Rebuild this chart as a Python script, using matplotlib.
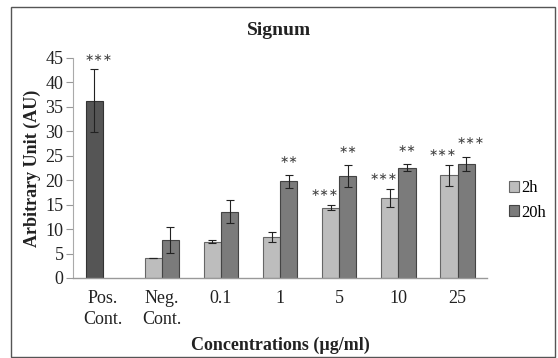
import numpy as np
import matplotlib.pyplot as plt
from matplotlib.patches import Rectangle

plt.rcParams['font.family'] = ['Liberation Serif', 'DejaVu Serif']

# data
categories = ['Pos.\nCont.', 'Neg.\nCont.', '0.1', '1', '5', '10', '25']
pos_value = 36.3
pos_err = 6.5
vals_2h = [4.0, 7.4, 8.4, 14.4, 16.3, 21.05]
err_2h = [0.0, 0.3, 1.05, 0.55, 1.85, 2.15]
vals_20h = [7.8, 13.6, 19.75, 20.9, 22.6, 23.4]
err_20h = [2.6, 2.35, 1.3, 2.25, 0.65, 1.45]
stars_2h = ['', '', '', '∗∗∗', '∗∗∗', '∗∗∗']
stars_20h = ['', '', '∗∗', '∗∗', '∗∗', '∗∗∗']
pos_star = '∗∗∗'

fig = plt.figure(figsize=(5.58, 3.58), dpi=100)
ax = fig.add_axes([0.131, 0.2235, 0.742, 0.6145])

w = 0.29
x = np.arange(len(categories))
xs = x[1:]
err_kw = dict(ecolor='#222222', elinewidth=0.8, capsize=3, capthick=0.8)

ax.bar(x[0] - w / 2, pos_value, w, yerr=pos_err, color='#555555',
       edgecolor='#333333', linewidth=0.8, error_kw=err_kw)
b2 = ax.bar(xs - w / 2, vals_2h, w, yerr=err_2h, color='#bdbdbd',
            edgecolor='#666666', linewidth=0.8, error_kw=err_kw, label='2h')
b20 = ax.bar(xs + w / 2, vals_20h, w, yerr=err_20h, color='#7b7b7b',
             edgecolor='#444444', linewidth=0.8, error_kw=err_kw, label='20h')

# significance stars, placed just above the error bars
star_kw = dict(ha='center', va='center', fontsize=8, color='#444444',
               family='DejaVu Sans', textcoords='offset points')
ax.annotate(pos_star, (x[0] - w / 2, pos_value + pos_err), xytext=(3, 8),
            **star_kw)
for xi, v, e, s in zip(xs, vals_2h, err_2h, stars_2h):
    if s:
        ax.annotate(s, (xi - w / 2, v + e), xytext=(-4.3, 8.5), **star_kw)
for xi, v, e, s in zip(xs, vals_20h, err_20h, stars_20h):
    if s:
        dx = 2.9 if len(s) == 3 else 0
        ax.annotate(s, (xi + w / 2, v + e), xytext=(dx, 11), **star_kw)

ax.set_xlim(-0.5, len(categories) - 0.5)
ax.set_ylim(0, 45)
ax.set_yticks(np.arange(0, 46, 5))
ax.set_xticks(x)
ax.set_xticklabels(categories, fontsize=13, color='#222222', linespacing=1.3)
ax.tick_params(axis='y', labelsize=13, colors='#222222', length=5,
               color='#999999', pad=2)
ax.tick_params(axis='x', length=0, pad=9)
for sp in ['top', 'right']:
    ax.spines[sp].set_visible(False)
ax.spines['left'].set_color('#aaaaaa')
ax.spines['bottom'].set_color('#999999')
ax.spines['left'].set_linewidth(0.8)
ax.spines['bottom'].set_linewidth(1.0)

ax.set_ylabel('Arbitrary Unit (AU)', fontsize=13, fontweight='bold',
              color='#222222', labelpad=3)
ax.set_xlabel('Concentrations (µg/ml)', fontsize=13, fontweight='bold',
              color='#222222', labelpad=6)
fig.text(0.5, 0.915, 'Signum', ha='center', va='center', fontsize=14,
         fontweight='bold', color='#222222')

fig.legend(handles=[b2, b20], loc='center left', bbox_to_anchor=(0.9, 0.44),
           frameon=False, fontsize=12, handlelength=0.6, handleheight=0.6,
           handletextpad=0.15, labelspacing=0.5, borderaxespad=0)

# outer frame
fig.patches.append(Rectangle((11 / 558, 1 / 358), 544 / 558, 350 / 358,
                             transform=fig.transFigure, fill=False,
                             edgecolor='#555555', linewidth=1.0))

fig.savefig('out.png', dpi=100)
